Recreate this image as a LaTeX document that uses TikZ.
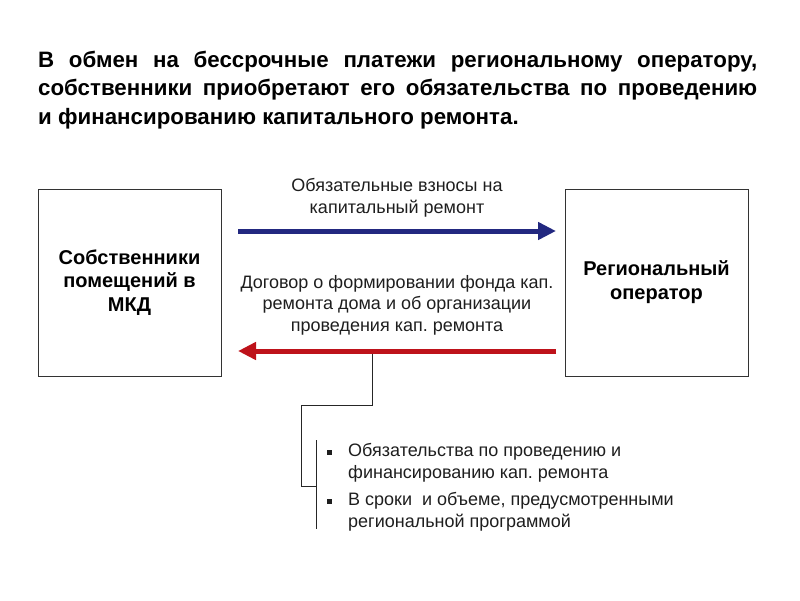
\documentclass[tikz,border=0pt]{standalone}
\usepackage{fontspec}
\setmainfont{Liberation Sans}
\usetikzlibrary{arrows.meta,calc}
\definecolor{navy}{RGB}{34,40,128}
\definecolor{darkred}{RGB}{190,18,26}
\definecolor{txt}{RGB}{30,30,30}
\frenchspacing
\begin{document}
\frenchspacing
\begin{tikzpicture}[x=1pt,y=-1pt,
  box/.style={draw=black!80, line width=0.9pt, minimum width=183pt, minimum height=187pt,
    align=center, inner sep=0pt, font=\fontsize{20}{23.8}\selectfont\bfseries},
  lbl/.style={align=center, inner sep=0pt, text=txt, font=\fontsize{18}{21.5}\selectfont},
  bul/.style={anchor=west, inner sep=0pt, text=txt, align=left, font=\fontsize{18}{22}\selectfont},
  bluearr/.style={line width=5pt, draw=navy, -{Triangle[length=18pt,width=17pt]}},
  redarr/.style={line width=5pt, draw=darkred, -{Triangle[length=18pt,width=17pt]}},
  thin/.style={draw=black!85, line width=0.9pt},
  sq/.style={fill=txt, minimum size=5pt, inner sep=0pt}
]
\useasboundingbox (0,0) rectangle (800,600);

\node[anchor=north west, inner sep=0pt, text width=719pt, align=justify,
  font=\fontsize{22.3}{28.5}\selectfont\bfseries] (title) at (38,50.5)
  {В обмен на бессрочные платежи региональному оператору,\linebreak собственники приобретают его обязательства по проведению\linebreak и~финансированию капитального ремонта.};

\node[box] (L) at (129.5,282.5) {Собственники\\помещений в\\МКД};
\node[box] (R) at (656.5,282.5) {Региональный\\оператор};

\coordinate (b1) at (238,231);
\coordinate (b2) at (556,231);
\coordinate (r1) at (556,351);
\coordinate (r2) at (238,351);
\draw[bluearr] (b1) -- (b2);
\draw[redarr] (r1) -- (r2);

\node[lbl] (top) at (397,198) {Обязательные взносы на\\капитальный ремонт};
\node[lbl] (mid) at (397,305) {Договор о формировании фонда кап.\\ремонта дома и об организации\\проведения кап. ремонта};

\coordinate (j) at (372,353.5);
\coordinate (k) at (301,405);
\coordinate (m) at (316,486);
\coordinate (br1) at (316,440);
\coordinate (br2) at (316,529);
\draw[thin] (j) |- (k) |- (m);
\draw[thin] (br1) -- (br2);

\node[sq] (s1) at (329,452) {};
\node[sq] (s2) at (329,501) {};
\node[bul] (t1) at (348,463) {Обязательства по проведению и\\финансированию кап. ремонта};
\node[bul] (t2) at (348,512) {В сроки \ и объеме, предусмотренными\\региональной программой};
\end{tikzpicture}
\end{document}
